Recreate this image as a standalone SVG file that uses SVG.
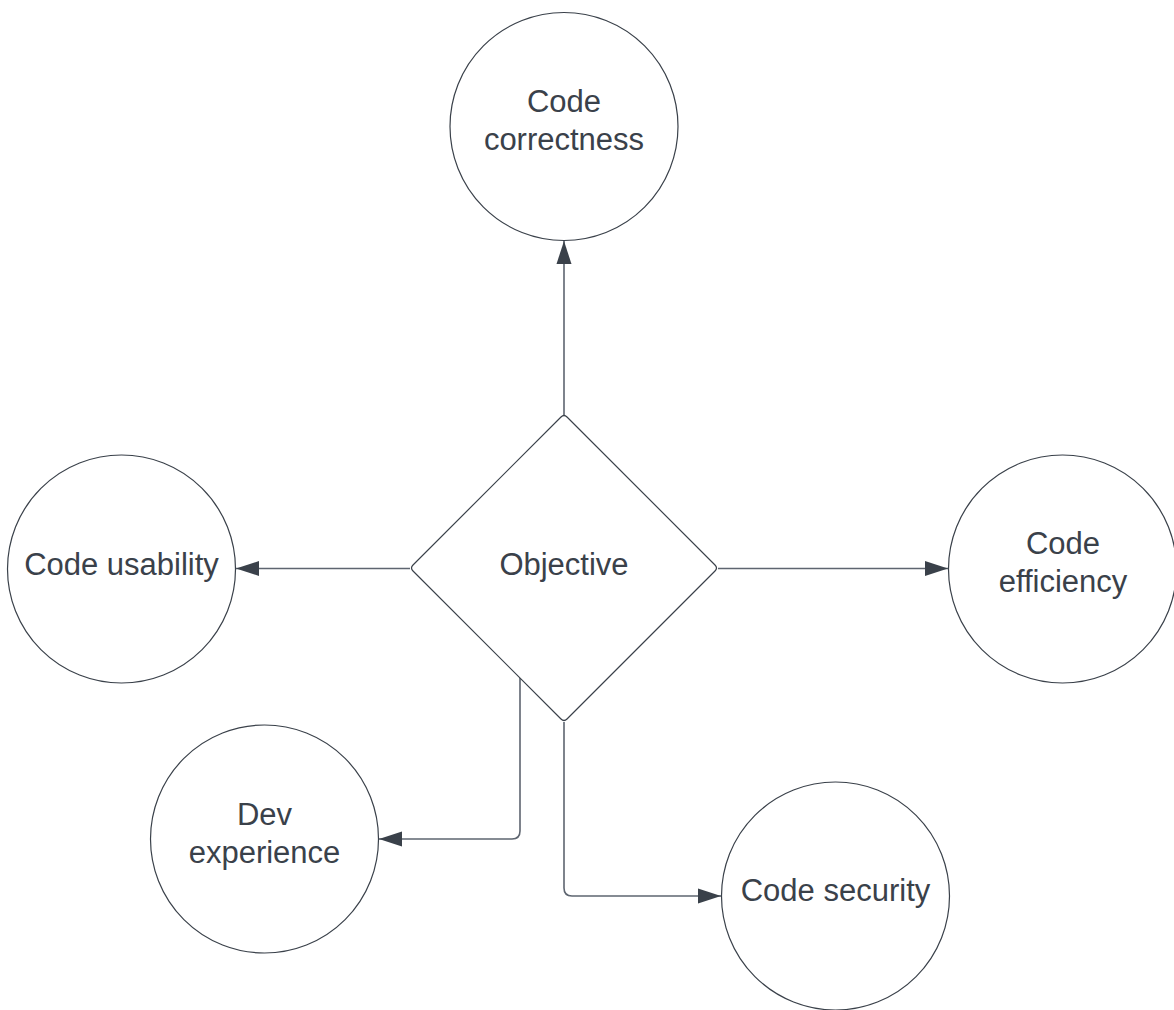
<svg xmlns="http://www.w3.org/2000/svg" width="1174" height="1010" viewBox="0 0 1174 1010">
  <style>
    .node { fill: #ffffff; stroke: #3a414a; stroke-width: 1.2; }
    .label { font-family: "Liberation Sans", Arial, sans-serif; font-size: 31px; fill: #3a414a; text-anchor: middle; }
    .edge { fill: none; stroke: #5e6570; stroke-width: 1.6; }
  </style>
  <defs>
    <marker id="arrow" markerUnits="userSpaceOnUse" markerWidth="24" markerHeight="16" viewBox="0 0 24 16" refX="23" refY="8" orient="auto">
      <path d="M0,0.5 L23,8 L0,15.5 Z" fill="#3a414a"/>
    </marker>
  </defs>
  <rect width="1174" height="1010" fill="#ffffff"/>

  <g id="connectors">
    <path class="edge" d="M564,415 V241" marker-end="url(#arrow)"/>
    <path class="edge" d="M410,568.5 H236" marker-end="url(#arrow)"/>
    <path class="edge" d="M718,568.5 H948" marker-end="url(#arrow)"/>
    <path class="edge" d="M520,678 V831 Q520,839 512,839 H379" marker-end="url(#arrow)"/>
    <path class="edge" d="M564,722 V888 Q564,896 572,896 H721" marker-end="url(#arrow)"/>
  </g>

  <g id="objective">
    <path class="node" d="M561,417 L413,565 Q410,568 413,571 L561,719 Q564,722 567,719 L715,571 Q718,568 715,565 L567,417 Q564,414 561,417 Z"/>
    <text class="label" x="564" y="575">Objective</text>
  </g>

  <g id="code-correctness">
    <circle class="node" cx="564" cy="126.5" r="114"/>
    <text class="label" x="564" y="112">Code</text>
    <text class="label" x="564" y="150">correctness</text>
  </g>

  <g id="code-usability">
    <circle class="node" cx="121.5" cy="569" r="114"/>
    <text class="label" x="121.5" y="575">Code usability</text>
  </g>

  <g id="code-efficiency">
    <circle class="node" cx="1062.5" cy="569" r="114"/>
    <text class="label" x="1063" y="554">Code</text>
    <text class="label" x="1063" y="592">efficiency</text>
  </g>

  <g id="dev-experience">
    <circle class="node" cx="264.5" cy="839" r="114"/>
    <text class="label" x="264.5" y="825">Dev</text>
    <text class="label" x="264.5" y="863">experience</text>
  </g>

  <g id="code-security">
    <circle class="node" cx="835.5" cy="896" r="114"/>
    <text class="label" x="835.5" y="901">Code security</text>
  </g>
</svg>
